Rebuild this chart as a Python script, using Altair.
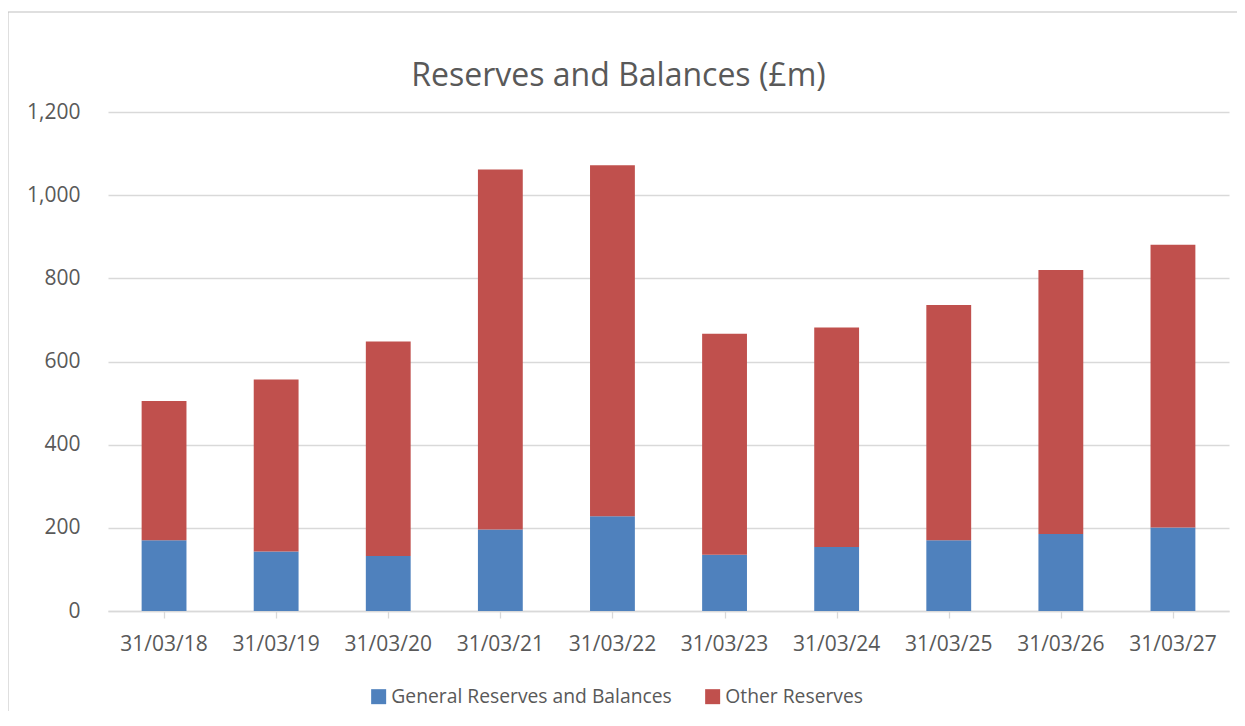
import altair as alt
import pandas as pd

dates = ["31/03/18", "31/03/19", "31/03/20", "31/03/21", "31/03/22",
         "31/03/23", "31/03/24", "31/03/25", "31/03/26", "31/03/27"]
general = [170, 143, 132, 196, 228, 135, 154, 170, 185, 201]
other = [335, 414, 516, 866, 844, 532, 528, 566, 635, 680]
series_names = ["General Reserves and Balances", "Other Reserves"]
series_colors = ["#4F81BD", "#C0504D"]
y_ticks = [0, 200, 400, 600, 800, 1000, 1200]

rows = []
for d, g, o in zip(dates, general, other):
    rows.append({"date": d, "series": series_names[0], "value": g, "ord": 0})
    rows.append({"date": d, "series": series_names[1], "value": o, "ord": 1})
df = pd.DataFrame(rows)

FONT = "Open Sans"
TXT = "#595959"
GRID = "#d9d9d9"

bars = alt.Chart(df).mark_bar().encode(
    x=alt.X("date:N", sort=dates,
            scale=alt.Scale(paddingInner=0.6, paddingOuter=0.3),
            axis=alt.Axis(title=None, orient="bottom", labelAngle=0, labelFont=FONT,
                          labelFontSize=21, labelColor=TXT, ticks=False, tickSize=0,
                          domain=False, grid=False, labelPadding=22)),
    y=alt.Y("value:Q", stack="zero",
            scale=alt.Scale(domain=[0, 1200], nice=False),
            axis=alt.Axis(title=None, values=y_ticks, format=",d", labelFont=FONT,
                          labelFontSize=21, labelColor=TXT, ticks=False, tickSize=0,
                          domain=False, grid=True, gridColor=GRID, gridWidth=1.3,
                          labelPadding=28)),
    color=alt.Color("series:N", sort=series_names,
                    scale=alt.Scale(domain=series_names, range=series_colors),
                    legend=alt.Legend(title=None, orient="none", legendX=261, legendY=575,
                                      direction="horizontal", symbolType="square",
                                      symbolSize=225, symbolStrokeWidth=0,
                                      labelFont=FONT, labelFontSize=19.3, labelColor=TXT,
                                      labelLimit=0, columnPadding=31, labelOffset=3,
                                      padding=0)),
    order=alt.Order("ord:Q"),
)

ticks_layer = alt.Chart(df).mark_point(opacity=0).encode(
    x=alt.X("date:N", sort=dates,
            scale=alt.Scale(paddingInner=0, paddingOuter=0),
            axis=alt.Axis(title=None, orient="bottom", labels=False, ticks=True,
                          tickSize=7, tickColor=GRID, tickWidth=1.3, bandPosition=0,
                          domain=True, domainColor=GRID, domainWidth=1.3, grid=False)),
)

border_data = alt.Data(values=[{"k": 1}])
border_left = alt.Chart(border_data).mark_rule(color="#bfbfbf", strokeWidth=1).encode(
    x=alt.value(-100), y=alt.value(-100), y2=alt.value(610))
border_top = alt.Chart(border_data).mark_rule(color="#bfbfbf", strokeWidth=1).encode(
    x=alt.value(-100), x2=alt.value(1130), y=alt.value(-100))

chart = alt.layer(bars, ticks_layer, border_left, border_top).resolve_scale(
    x="independent").resolve_axis(x="independent").properties(
    width=1121, height=499,
    autosize=alt.AutoSizeParams(type="none"),
    padding={"left": 100, "top": 104, "right": 8, "bottom": 100},
    title=alt.TitleParams("Reserves and Balances (£m)", font=FONT, fontSize=32,
                          fontWeight="normal", color=TXT, anchor="middle", frame="group",
                          dx=-50, dy=106, offset=0, baseline="alphabetic"),
).configure(background="white").configure_view(stroke=None, strokeWidth=0)

chart.save("out.html", embed_options={"renderer": "svg", "actions": False})
